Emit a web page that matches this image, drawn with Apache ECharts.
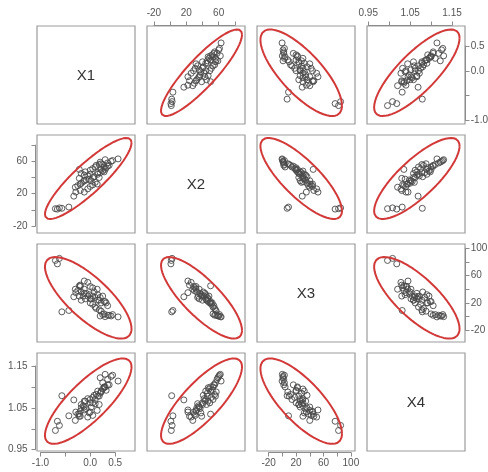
<!DOCTYPE html>
<html>
<head>
<meta charset="utf-8">
<script src="https://cdn.jsdelivr.net/npm/echarts@6/dist/echarts.min.js"></script>
<style>
  html, body { margin: 0; padding: 0; background: #ffffff; }
  #chart { width: 488px; height: 472px; }
</style>
</head>
<body>
<div id="chart"></div>
<script>
// Variable names shown on the diagonal
const varNames = ['X1', 'X2', 'X3', 'X4'];

// Observations (one entry per case, same order in every array)
const x1 = [-0.70, -0.62, -0.66, -0.57, -0.43, -0.33, -0.29, -0.22, 0.56,
  0.42, 0.35, 0.30, 0.25, 0.38, 0.20, 0.45, 0.28,
  -0.20, -0.30, -0.12, -0.25, -0.05, -0.18, 0.00, -0.14, 0.05, -0.08, 0.10, -0.02, 0.14, 0.02, -0.22, 0.18,
  -0.05, -0.18, 0.08, -0.10, 0.15, 0.00, 0.20, 0.05, 0.25, 0.10, 0.30, 0.12, 0.32, 0.18, 0.35, 0.22, -0.12, 0.28,
  0.05, -0.12, 0.22, 0.00, -0.20, 0.15];
const x2 = [1.5, 2.5, 1.0, 2.0, 3.5, 17, 22, 50, 63,
  60, 58, 62, 56, 55, 59, 61, 53,
  24, 28, 22, 30, 26, 33, 29, 35, 31, 37, 34, 38, 32, 36, 39, 40,
  42, 45, 41, 47, 44, 49, 46, 51, 48, 53, 50, 55, 52, 56, 54, 57, 43, 47,
  40, 36, 50, 44, 32, 46];
const x3 = [82, 85, 77, 7, 9, 29, 35, 45, -0.4,
  1, 2, 0, 3, 2, 1, 3, 4,
  46, 40, 52, 38, 50, 36, 44, 30, 42, 34, 28, 32, 40, 26, 30, 24,
  30, 24, 36, 26, 32, 20, 28, 18, 30, 14, 22, 12, 20, 10, 16, 8, 34, 22,
  30, 40, 20, 26, 44, 24];
const x4 = [0.996, 1.008, 1.018, 1.079, 1.031, 1.069, 1.040, 1.035, 1.114,
  1.125, 1.118, 1.130, 1.110, 1.105, 1.122, 1.128, 1.100,
  1.030, 1.020, 1.045, 1.035, 1.028, 1.050, 1.040, 1.055, 1.032, 1.048, 1.060, 1.038, 1.044, 1.052, 1.030, 1.058,
  1.072, 1.058, 1.080, 1.066, 1.090, 1.062, 1.085, 1.075, 1.095, 1.070, 1.100, 1.082, 1.092, 1.078, 1.105, 1.088, 1.066, 1.098,
  1.062, 1.052, 1.090, 1.070, 1.042, 1.078];

// Axis ranges and tick marks for each variable
const axisMin = [-1.07, -28.5, -37, 0.947];
const axisMax = [0.90, 92.5, 106, 1.181];
const tickFirst = [-1.0, -20, -20, 0.95];
const tickLast = [0.5, 80, 100, 1.15];
const tickStep = [0.5, 20, 20, 0.05];
const tickDigits = [1, 0, 0, 2];
const tickLabels = [['-1.0', '0.0', '0.5'], ['-20', '20', '60'], ['-20', '20', '60', '100'], ['0.95', '1.05', '1.15']];

// Concentration ellipse: centre, half-extent per variable, and pairwise correlation
const ellCenter = [-0.04, 38.8, 27.5, 1.066];
const ellHalf = [0.87, 50, 59.5, 0.102];
const ellCorr = [
  [1, 0.88, -0.76, 0.80],
  [0.88, 1, -0.80, 0.80],
  [-0.76, -0.80, 1, -0.76],
  [0.80, 0.80, -0.76, 1]
];

// ---- layout ----
const colLeft = [37, 147, 257, 367];
const rowTop = [26, 135, 244, 353];
const W = 98, H = 98;
const GAP = 1.5;
const FONT = '"Liberation Sans", Arial, Helvetica, sans-serif';

const n = varNames.length;
const vars = [x1, x2, x3, x4];

function px(j, v) { return colLeft[j] + (v - axisMin[j]) / (axisMax[j] - axisMin[j]) * W; }
function py(i, v) { return rowTop[i] + (axisMax[i] - v) / (axisMax[i] - axisMin[i]) * H; }

function ellipsePoints(i, j) {
  const pts = [];
  const r = ellCorr[i][j];
  const s = Math.sqrt(1 - r * r);
  for (let k = 0; k <= 120; k++) {
    const t = (k / 120) * 2 * Math.PI;
    pts.push([
      ellCenter[j] + ellHalf[j] * Math.cos(t),
      ellCenter[i] + ellHalf[i] * (r * Math.cos(t) + s * Math.sin(t))
    ]);
  }
  return pts;
}

const grid = [], xAxis = [], yAxis = [], series = [], graphic = [];

for (let i = 0; i < n; i++) {
  for (let j = 0; j < n; j++) {
    const g = grid.length;
    grid.push({
      left: colLeft[j], top: rowTop[i], width: W, height: H,
      show: true, borderColor: '#9c9c9c', borderWidth: 1.2,
      backgroundColor: 'rgba(0,0,0,0)'
    });
    xAxis.push({ gridIndex: g, type: 'value', min: axisMin[j], max: axisMax[j], show: false });
    yAxis.push({ gridIndex: g, type: 'value', min: axisMin[i], max: axisMax[i], show: false });
    if (i === j) {
      graphic.push({
        type: 'text',
        x: colLeft[j] + W / 2, y: rowTop[i] + H / 2 + 1,
        style: {
          text: varNames[i], fill: '#333333', fontSize: 15, fontFamily: FONT,
          align: 'center', verticalAlign: 'middle', textAlign: 'center', textVerticalAlign: 'middle'
        }
      });
      continue;
    }
    series.push({
      type: 'scatter', xAxisIndex: g, yAxisIndex: g,
      data: vars[j].map((v, k) => [v, vars[i][k]]),
      symbol: 'circle', symbolSize: 6,
      itemStyle: { color: 'rgba(0,0,0,0)', borderColor: '#4a4a4a', borderWidth: 0.9, opacity: 1 },
      emphasis: { disabled: true }, silent: true, animation: false, z: 2
    });
    series.push({
      type: 'line', xAxisIndex: g, yAxisIndex: g,
      data: ellipsePoints(i, j),
      showSymbol: false, smooth: false, clip: true,
      lineStyle: { color: '#d23a3a', width: 2 },
      silent: true, animation: false, z: 3
    });
  }
}

// ---- outer axes (drawn only over the tick range) ----
const tickStyle = { color: '#8c8c8c', width: 1 };
function labelFormatter(idx) {
  return function (val) {
    const s = Number(val).toFixed(tickDigits[idx]);
    const t = (s === '-0' || s === '-0.0') ? s.slice(1) : s;
    return tickLabels[idx].includes(t) ? t : '';
  };
}
function axisSpec(idx, position, gIdx) {
  return {
    gridIndex: gIdx, type: 'value', position: position,
    min: tickFirst[idx], max: tickLast[idx], interval: tickStep[idx],
    axisLine: { show: true, lineStyle: tickStyle },
    axisTick: { show: true, inside: false, length: 4, lineStyle: tickStyle },
    axisLabel: {
      show: true, margin: 6, fontSize: 10, color: '#555555', fontFamily: FONT,
      showMinLabel: true, showMaxLabel: true, hideOverlap: false,
      formatter: labelFormatter(idx)
    },
    splitLine: { show: false }
  };
}
function hiddenAxis(gIdx) { return { gridIndex: gIdx, type: 'value', show: false, min: 0, max: 1 }; }

// top axes (columns 2 and 4)
[1, 3].forEach(j => {
  const g = grid.length;
  const a = px(j, tickFirst[j]), b = px(j, tickLast[j]);
  grid.push({ left: a, width: b - a, top: rowTop[0] - GAP, height: 1, show: false });
  xAxis.push(axisSpec(j, 'top', g));
  yAxis.push(hiddenAxis(g));
});
// bottom axes (columns 1 and 3)
[0, 2].forEach(j => {
  const g = grid.length;
  const a = px(j, tickFirst[j]), b = px(j, tickLast[j]);
  grid.push({ left: a, width: b - a, top: rowTop[3] + H + GAP - 1, height: 1, show: false });
  xAxis.push(axisSpec(j, 'bottom', g));
  yAxis.push(hiddenAxis(g));
});
// left axes (rows 2 and 4)
[1, 3].forEach(i => {
  const g = grid.length;
  const a = py(i, tickLast[i]), b = py(i, tickFirst[i]);
  grid.push({ left: colLeft[0] - GAP, width: 1, top: a, height: b - a, show: false });
  const ax = axisSpec(i, 'left', g);
  ax.axisLabel.margin = 8;
  yAxis.push(ax);
  xAxis.push(hiddenAxis(g));
});
// right axes (rows 1 and 3)
[0, 2].forEach(i => {
  const g = grid.length;
  const a = py(i, tickLast[i]), b = py(i, tickFirst[i]);
  grid.push({ left: colLeft[3] + W + GAP - 1, width: 1, top: a, height: b - a, show: false });
  const ax = axisSpec(i, 'right', g);
  ax.axisLabel.margin = 5;
  yAxis.push(ax);
  xAxis.push(hiddenAxis(g));
});

const chart = echarts.init(document.getElementById('chart'), null, { renderer: 'canvas' });
chart.setOption({
  backgroundColor: '#ffffff',
  animation: false,
  grid: grid,
  xAxis: xAxis,
  yAxis: yAxis,
  series: series,
  graphic: graphic
});
</script>
</body>
</html>
